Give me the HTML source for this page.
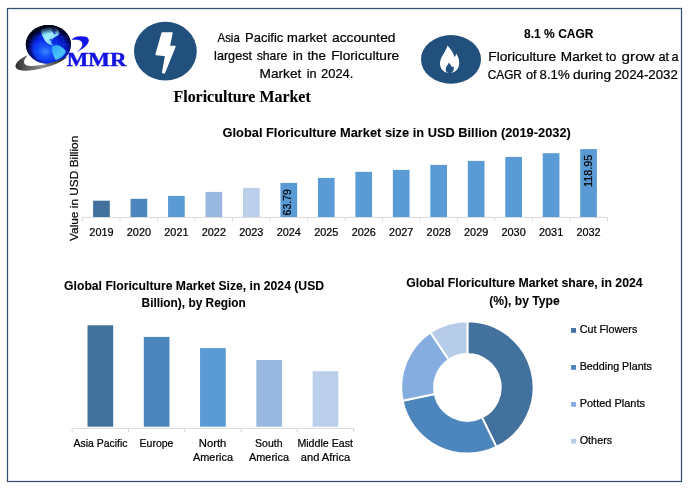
<!DOCTYPE html>
<html lang="en"><head><meta charset="utf-8"><title>Floriculture Market</title>
<style>html,body{margin:0;padding:0;background:#fff}body{width:690px;height:490px;overflow:hidden}svg{display:block}text{font-family:"Liberation Sans",sans-serif;fill:#000;stroke:#000;stroke-width:0.22px}.b{font-weight:bold;stroke-width:0.08px}.s{font-family:"Liberation Serif",serif;font-weight:bold;stroke-width:0.1px}</style></head><body>
<svg width="690" height="490" viewBox="0 0 690 490">
<defs>
<radialGradient id="gl" gradientUnits="userSpaceOnUse" cx="45.5" cy="51.5" r="27" gradientTransform="translate(0 7.7) scale(1 0.85)"><stop offset="0" stop-color="#3a86ff"/><stop offset="0.25" stop-color="#1450fa"/><stop offset="0.55" stop-color="#0626e6"/><stop offset="0.85" stop-color="#0414b0"/><stop offset="1" stop-color="#020860"/></radialGradient>
<radialGradient id="rim" gradientUnits="userSpaceOnUse" cx="50.5" cy="48" r="24.5" gradientTransform="translate(0 6.24) scale(1 0.87)"><stop offset="0.68" stop-color="#000428" stop-opacity="0"/><stop offset="0.86" stop-color="#000428" stop-opacity="0.6"/><stop offset="1" stop-color="#00020f" stop-opacity="0.97"/></radialGradient>
<linearGradient id="na" x1="0" y1="0" x2="1" y2="1"><stop offset="0" stop-color="#4fc4ff"/><stop offset="0.5" stop-color="#a4eeff"/><stop offset="1" stop-color="#3aa8f8"/></linearGradient>
<linearGradient id="sa" x1="0" y1="0" x2="1" y2="1"><stop offset="0" stop-color="#2d9cf4"/><stop offset="0.6" stop-color="#4cc4fb"/><stop offset="1" stop-color="#1f80e8"/></linearGradient>
<linearGradient id="sw" gradientUnits="userSpaceOnUse" x1="16" y1="66" x2="68" y2="58"><stop offset="0" stop-color="#2e2e2e"/><stop offset="0.2" stop-color="#5c5c5c"/><stop offset="0.5" stop-color="#8e8e8e"/><stop offset="0.78" stop-color="#4a4a4a"/><stop offset="1" stop-color="#1c1c1c"/></linearGradient>
</defs>
<rect width="690" height="490" fill="#fff"/>
<rect x="7.5" y="8.5" width="674" height="473" fill="none" stroke="#34526f" stroke-width="1.25"/>
<g id="logo">
<clipPath id="gc"><ellipse cx="48.4" cy="44.5" rx="22.6" ry="19.6"/></clipPath>
<g clip-path="url(#gc)">
<rect x="24" y="23" width="50" height="44" fill="url(#gl)"/>
<g stroke="#3a78ff" stroke-width="0.35" fill="none" opacity="0.55"><ellipse cx="48.4" cy="44.5" rx="8" ry="19.6"/><ellipse cx="48.4" cy="44.5" rx="15.5" ry="19.6"/><path d="M26 38 Q48 33 71 38M26 45 Q48 42 71 45M27 52 Q48 51 70 52M30 58 Q48 59 67 58"/></g>
<path d="M40.9 28.4 C43.5 26.8 47 26.2 49.8 26.3 C53 26.5 56.5 28 58.5 30.2 C59.8 31.8 59.8 33.5 59 34.6 C57.5 36 55.5 36.8 53.8 37.9 C52.5 38.8 51.8 40 51.3 41.2 C50.8 42.3 51.5 43.6 52.9 45 C52 45.6 50 45 48.3 43.8 C46.5 42.5 45 41 44.3 39.6 C43.3 37.8 42.3 36.2 41.8 34.6 C41.2 32.5 40.6 30.5 40.9 28.4Z" fill="url(#na)"/>
<path d="M52.3 27.2 L54.5 27.6 L53.6 29.4 L55.8 29 L56.6 31 L54.6 32 L56.4 33.4 L54.2 34.4 L52.8 32.6 L51.8 30.2Z M49.5 39.3 L52 38.6 L51.5 40.8 L49.8 40.9Z" fill="#0a30c8" opacity="0.75"/>
<path d="M52.1 46 C54 45 56.8 45 58.9 45.6 C61.5 46.6 64.5 49 65.9 51.6 C65.5 54 63.2 56.2 60.8 57.8 C59.2 59 57.4 59.6 55.7 59.9 C54.6 58 53.5 55.8 52.8 53.7 C52.2 51.8 51.6 50.2 51.6 48.6 C51.6 47.6 51.7 46.7 52.1 46Z" fill="url(#sa)"/>
<rect x="24" y="23" width="50" height="44" fill="url(#rim)"/>
</g>
<path d="M27.6 55.3 C20 58.5 13.6 64 16 67.9 C19.5 73.2 40 70 52.5 65.3 C58.5 63 64.5 60 68.4 56 C57 62 42 66 31 66 C23 66 22 61.5 27.6 55.3Z" fill="url(#sw)"/>
<path d="M71.6 39.9 C73.6 37.4 76.8 36.3 80 36.3 L84.6 36.5 C87.8 36.8 89.3 39 88.7 41.6 C87.8 45.2 83 49.2 76.2 52.4 C80 49.6 82.6 46.6 82.4 43.9 C82.1 41.3 80 40.1 77.5 39.8 C75.5 39.6 73.5 39.6 71.6 39.9Z" fill="#1414e4"/>
<text x="66.8" y="66" font-size="19.5" class="s" textLength="59.6" lengthAdjust="spacingAndGlyphs" style="fill:#1212e2;stroke:#1212e2;stroke-width:0.45px">MMR</text>
</g>
<ellipse cx="165.4" cy="51.2" rx="31.4" ry="29.4" fill="#22507c"/>
<path d="M162.3 33 L171.9 33 L169 46.6 L174.8 46.6 L164.3 72.6 L162.8 72.4 L165.9 55.4 L156.3 54.3 Z" fill="#fff" stroke="#fff" stroke-width="1.7" stroke-linejoin="round"/>
<ellipse cx="451" cy="59.4" rx="30" ry="24.3" fill="#22507c"/>
<path d="M447.6 45.6 C451 50 453.5 53 454.5 57 C455.5 56 456 55 456.2 53.5 C458.5 57 459.3 60 459.2 63.5 C459 69 455 73 449.5 73 C444 73 440 69 440 63.5 C440 57 446 52 447.6 45.6Z" fill="#fff"/>
<path d="M448.8 62.5 C450.5 64.5 451.5 66 452 67.5 C452.5 67 452.8 66.5 453 65.8 C454 67.5 454 69.5 453.2 71 C452.3 72.5 450.8 73.2 449.3 73.2 C446.8 73.2 445.5 71 445.7 69 C446 66.5 448 65 448.8 62.5Z" fill="#22507c"/>
<text y="41.9" font-size="12.7"><tspan x="217.5" textLength="22.3" lengthAdjust="spacingAndGlyphs">Asia</tspan> <tspan x="245.1" textLength="38.2" lengthAdjust="spacingAndGlyphs">Pacific</tspan> <tspan x="287.1" textLength="39.7" lengthAdjust="spacingAndGlyphs">market</tspan> <tspan x="332.0" textLength="63.5" lengthAdjust="spacingAndGlyphs">accounted</tspan></text>
<text y="60.2" font-size="12.7"><tspan x="214.1" textLength="37.9" lengthAdjust="spacingAndGlyphs">largest</tspan> <tspan x="256.7" textLength="30.6" lengthAdjust="spacingAndGlyphs">share</tspan> <tspan x="292.9">in</tspan> <tspan x="307.4" textLength="18.5" lengthAdjust="spacingAndGlyphs">the</tspan> <tspan x="331.2" textLength="68.0" lengthAdjust="spacingAndGlyphs">Floriculture</tspan></text>
<text y="77.8" font-size="12.7"><tspan x="259.6" textLength="41.7" lengthAdjust="spacingAndGlyphs">Market</tspan> <tspan x="306.8">in</tspan> <tspan x="321.0" textLength="32.4" lengthAdjust="spacingAndGlyphs">2024.</tspan></text>
<text x="173.5" y="101.7" font-size="16" class="s" textLength="137.2" lengthAdjust="spacingAndGlyphs">Floriculture Market</text>
<text x="558.8" y="37.8" font-size="12.7" text-anchor="middle" class="b" textLength="69.4" lengthAdjust="spacingAndGlyphs">8.1 % CAGR</text>
<text y="60.6" font-size="12.7"><tspan x="488.3" textLength="67.8" lengthAdjust="spacingAndGlyphs">Floriculture</tspan> <tspan x="560.8" textLength="41.6" lengthAdjust="spacingAndGlyphs">Market</tspan> <tspan x="605.7">to</tspan> <tspan x="621.6" textLength="33.0" lengthAdjust="spacingAndGlyphs">grow</tspan> <tspan x="658.4">at</tspan> <tspan x="671.5">a</tspan></text>
<text y="78.9" font-size="12.7"><tspan x="487.7" textLength="34.2" lengthAdjust="spacingAndGlyphs">CAGR</tspan> <tspan x="526.0">of</tspan> <tspan x="539.6" textLength="30.1" lengthAdjust="spacingAndGlyphs">8.1%</tspan> <tspan x="572.9" textLength="38.2" lengthAdjust="spacingAndGlyphs">during</tspan> <tspan x="614.4" textLength="63.4" lengthAdjust="spacingAndGlyphs">2024-2032</tspan></text>
<text x="396.7" y="136.75" font-size="12.5" text-anchor="middle" class="b" textLength="348.2" lengthAdjust="spacingAndGlyphs">Global Floriculture Market size in USD Billion (2019-2032)</text>
<path d="M82.5 217.4H607.6" stroke="#d9d9d9" stroke-width="1" fill="none"/>
<path d="M82.50 217.4v3.6M120.00 217.4v3.6M157.50 217.4v3.6M195.00 217.4v3.6M232.50 217.4v3.6M270.00 217.4v3.6M307.50 217.4v3.6M345.00 217.4v3.6M382.50 217.4v3.6M420.00 217.4v3.6M457.50 217.4v3.6M495.00 217.4v3.6M532.50 217.4v3.6M570.00 217.4v3.6M607.50 217.4v3.6" stroke="#d9d9d9" stroke-width="1" fill="none"/>
<rect x="93.10" y="200.7" width="16.7" height="16.3" fill="#41719c"/>
<text x="101.45" y="235.7" font-size="10.9" text-anchor="middle" textLength="24.2" lengthAdjust="spacingAndGlyphs">2019</text>
<rect x="130.57" y="198.8" width="16.7" height="18.2" fill="#4c86bd"/>
<text x="138.92" y="235.7" font-size="10.9" text-anchor="middle" textLength="24.2" lengthAdjust="spacingAndGlyphs">2020</text>
<rect x="168.04" y="195.9" width="16.7" height="21.1" fill="#5b9bd5"/>
<text x="176.39" y="235.7" font-size="10.9" text-anchor="middle" textLength="24.2" lengthAdjust="spacingAndGlyphs">2021</text>
<rect x="205.51" y="191.9" width="16.7" height="25.1" fill="#98b8e0"/>
<text x="213.86" y="235.7" font-size="10.9" text-anchor="middle" textLength="24.2" lengthAdjust="spacingAndGlyphs">2022</text>
<rect x="242.98" y="187.9" width="16.7" height="29.1" fill="#bccfea"/>
<text x="251.33" y="235.7" font-size="10.9" text-anchor="middle" textLength="24.2" lengthAdjust="spacingAndGlyphs">2023</text>
<rect x="280.45" y="182.9" width="16.7" height="34.1" fill="#5b9bd5"/>
<text x="288.80" y="235.7" font-size="10.9" text-anchor="middle" textLength="24.2" lengthAdjust="spacingAndGlyphs">2024</text>
<rect x="317.92" y="177.9" width="16.7" height="39.1" fill="#5b9bd5"/>
<text x="326.27" y="235.7" font-size="10.9" text-anchor="middle" textLength="24.2" lengthAdjust="spacingAndGlyphs">2025</text>
<rect x="355.39" y="171.8" width="16.7" height="45.2" fill="#5b9bd5"/>
<text x="363.74" y="235.7" font-size="10.9" text-anchor="middle" textLength="24.2" lengthAdjust="spacingAndGlyphs">2026</text>
<rect x="392.86" y="169.9" width="16.7" height="47.1" fill="#5b9bd5"/>
<text x="401.21" y="235.7" font-size="10.9" text-anchor="middle" textLength="24.2" lengthAdjust="spacingAndGlyphs">2027</text>
<rect x="430.33" y="164.9" width="16.7" height="52.1" fill="#5b9bd5"/>
<text x="438.68" y="235.7" font-size="10.9" text-anchor="middle" textLength="24.2" lengthAdjust="spacingAndGlyphs">2028</text>
<rect x="467.80" y="160.9" width="16.7" height="56.1" fill="#5b9bd5"/>
<text x="476.15" y="235.7" font-size="10.9" text-anchor="middle" textLength="24.2" lengthAdjust="spacingAndGlyphs">2029</text>
<rect x="505.27" y="156.9" width="16.7" height="60.1" fill="#5b9bd5"/>
<text x="513.62" y="235.7" font-size="10.9" text-anchor="middle" textLength="24.2" lengthAdjust="spacingAndGlyphs">2030</text>
<rect x="542.74" y="153.2" width="16.7" height="63.8" fill="#5b9bd5"/>
<text x="551.09" y="235.7" font-size="10.9" text-anchor="middle" textLength="24.2" lengthAdjust="spacingAndGlyphs">2031</text>
<rect x="580.21" y="149.1" width="16.7" height="67.9" fill="#5b9bd5"/>
<text x="588.56" y="235.7" font-size="10.9" text-anchor="middle" textLength="24.2" lengthAdjust="spacingAndGlyphs">2032</text>
<text transform="translate(78.4 241) rotate(-90)" font-size="10.9" textLength="105.3" lengthAdjust="spacingAndGlyphs">Value in USD Billion</text>
<text transform="translate(291.2 215.4) rotate(-90)" font-size="10.9" textLength="26.3" lengthAdjust="spacingAndGlyphs">63.79</text>
<text transform="translate(592.2 186.9) rotate(-90)" font-size="10.9" textLength="32.3" lengthAdjust="spacingAndGlyphs">118.95</text>
<text x="194.1" y="289.7" font-size="12.8" text-anchor="middle" class="b" textLength="260" lengthAdjust="spacingAndGlyphs">Global Floriculture Market Size, in 2024 (USD</text>
<text x="193.7" y="306.7" font-size="12.8" text-anchor="middle" class="b" textLength="104.2" lengthAdjust="spacingAndGlyphs">Billion), by Region</text>
<path d="M72.2 428.4H353.6" stroke="#d9d9d9" stroke-width="1" fill="none"/>
<path d="M72.20 428.4v3.6M128.48 428.4v3.6M184.76 428.4v3.6M241.04 428.4v3.6M297.32 428.4v3.6M353.60 428.4v3.6" stroke="#d9d9d9" stroke-width="1" fill="none"/>
<rect x="87.50" y="325.3" width="25.7" height="101.4" fill="#41719c"/>
<rect x="143.78" y="336.9" width="25.7" height="89.8" fill="#4c86bd"/>
<rect x="200.06" y="348.1" width="25.7" height="78.6" fill="#5b9bd5"/>
<rect x="256.34" y="360" width="25.7" height="66.7" fill="#98b8e0"/>
<rect x="312.62" y="371.2" width="25.7" height="55.5" fill="#bccfea"/>
<text x="100.5" y="446.9" font-size="10.9" text-anchor="middle" textLength="54" lengthAdjust="spacingAndGlyphs">Asia Pacific</text>
<text x="156.5" y="446.9" font-size="10.9" text-anchor="middle" textLength="33.9" lengthAdjust="spacingAndGlyphs">Europe</text>
<text x="212.6" y="446.9" font-size="10.9" text-anchor="middle" textLength="27.6" lengthAdjust="spacingAndGlyphs">North</text>
<text x="213" y="461" font-size="10.9" text-anchor="middle" textLength="40" lengthAdjust="spacingAndGlyphs">America</text>
<text x="268.8" y="446.9" font-size="10.9" text-anchor="middle" textLength="27.4" lengthAdjust="spacingAndGlyphs">South</text>
<text x="269" y="461" font-size="10.9" text-anchor="middle" textLength="40" lengthAdjust="spacingAndGlyphs">America</text>
<text x="325.2" y="446.9" font-size="10.9" text-anchor="middle" textLength="55.6" lengthAdjust="spacingAndGlyphs">Middle East</text>
<text x="325.5" y="461" font-size="10.9" text-anchor="middle" textLength="49.3" lengthAdjust="spacingAndGlyphs">and Africa</text>
<text x="524.4" y="287.4" font-size="12.8" text-anchor="middle" class="b" textLength="236.4" lengthAdjust="spacingAndGlyphs">Global Floriculture Market share, in 2024</text>
<text x="524.5" y="304.9" font-size="12.8" text-anchor="middle" class="b" textLength="70.5" lengthAdjust="spacingAndGlyphs">(%), by Type</text>
<path d="M467.40 321.20A66.2 66.2 0 0 1 496.42 446.90L482.00 417.33A33.3 33.3 0 0 0 467.40 354.10Z" fill="#41719c" stroke="#fff" stroke-width="2" stroke-linejoin="round"/>
<path d="M496.42 446.90A66.2 66.2 0 0 1 402.55 400.71L434.78 394.10A33.3 33.3 0 0 0 482.00 417.33Z" fill="#4c86bd" stroke="#fff" stroke-width="2" stroke-linejoin="round"/>
<path d="M402.55 400.71A66.2 66.2 0 0 1 430.38 332.52L448.78 359.79A33.3 33.3 0 0 0 434.78 394.10Z" fill="#85ade0" stroke="#fff" stroke-width="2" stroke-linejoin="round"/>
<path d="M430.38 332.52A66.2 66.2 0 0 1 467.40 321.20L467.40 354.10A33.3 33.3 0 0 0 448.78 359.79Z" fill="#b7cce9" stroke="#fff" stroke-width="2" stroke-linejoin="round"/>
<rect x="571.1" y="328.0" width="4.9" height="4.8" fill="#41719c"/>
<text x="579.7" y="333" font-size="10.9" textLength="57.6" lengthAdjust="spacingAndGlyphs">Cut Flowers</text>
<rect x="571.1" y="365.0" width="4.9" height="4.8" fill="#4c86bd"/>
<text x="579.7" y="370" font-size="10.9" textLength="72.3" lengthAdjust="spacingAndGlyphs">Bedding Plants</text>
<rect x="571.1" y="402.0" width="4.9" height="4.8" fill="#85ade0"/>
<text x="579.7" y="406.8" font-size="10.9" textLength="65.3" lengthAdjust="spacingAndGlyphs">Potted Plants</text>
<rect x="571.1" y="438.8" width="4.9" height="4.8" fill="#b7cce9"/>
<text x="579.7" y="443.9" font-size="10.9" textLength="32.5" lengthAdjust="spacingAndGlyphs">Others</text>
</svg></body></html>
